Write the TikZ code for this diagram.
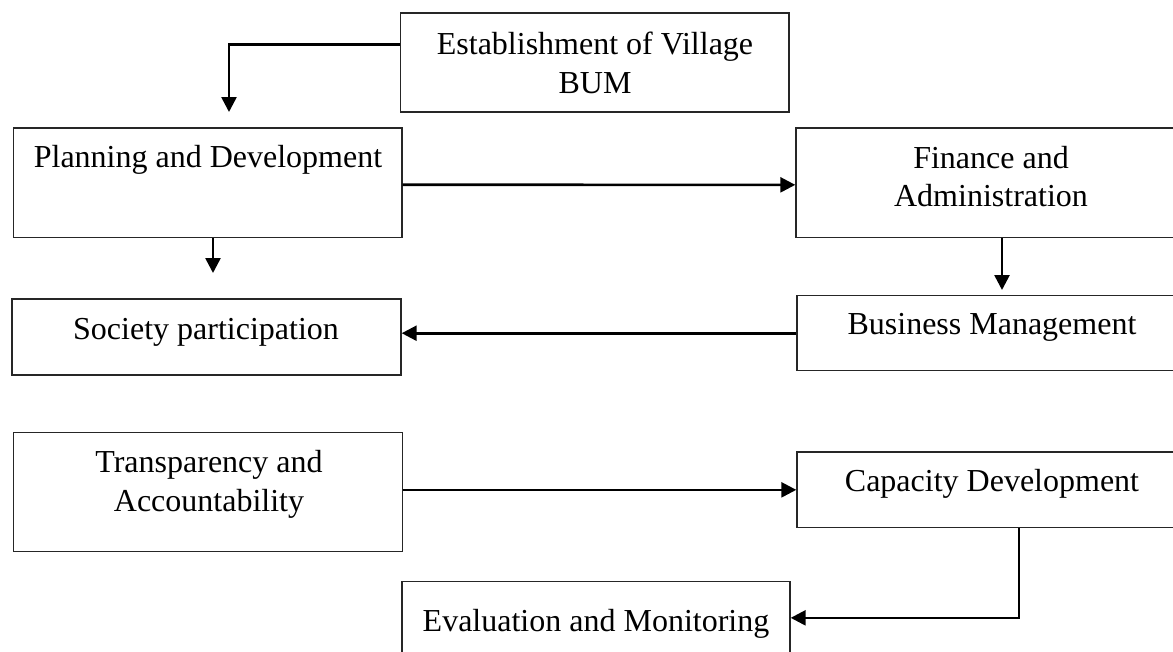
\documentclass[tikz,border=0pt]{standalone}
\usepackage{fontspec}
\setmainfont{Liberation Serif}
\usetikzlibrary{arrows.meta,calc}
\begin{document}
\begin{tikzpicture}[x=1pt,y=-1pt,
  box/.style={draw=black!85,line width=1.4pt,rectangle,inner sep=0pt},
  lbl/.style={anchor=base,inner sep=0pt,font=\fontsize{32}{39}\selectfont},
  arr/.style={line width=2.6pt,-{Triangle[length=15pt,width=15pt]}}]
\useasboundingbox (0,0) rectangle (1173,651);
\clip (0,0) rectangle (1173,651);
\fill[white] (0,0) rectangle (1173,651);
% boxes
\node[box,minimum width=388.3pt,minimum height=99pt] (est) at (594.85,62.5) {};
\node[box,minimum width=388.3pt,minimum height=109.5pt] (plan) at (207.85,182.75) {};
\node[box,minimum width=394pt,minimum height=109.7pt] (fin) at (993,182.85) {};
\node[box,minimum width=392pt,minimum height=75pt] (bus) at (993,333.2) {};
\node[box,minimum width=389pt,minimum height=76pt] (soc) at (206.5,337) {};
\node[box,minimum width=389.4pt,minimum height=119pt] (trans) at (208,492.2) {};
\node[box,minimum width=392pt,minimum height=75.7pt] (cap) at (993,489.85) {};
\node[box,minimum width=388pt,minimum height=72.3pt] (eval) at (596,617.85) {};
% texts
\node[lbl] (t1a) at (595,54) {Establishment of Village};
\node[lbl] (t1b) at (595,93) {BUM};
\node[lbl] (t2) at (208,167.5) {Planning and Development};
\node[lbl] (t3a) at (991,168) {Finance and};
\node[lbl] (t3b) at (991,206) {Administration};
\node[lbl] (t4) at (992,334) {Business Management};
\node[lbl] (t5) at (206,339) {Society participation};
\node[lbl] (t6a) at (209,472.7) {Transparency and};
\node[lbl] (t6b) at (209,511.7) {Accountability};
\node[lbl] (t7) at (992,491) {Capacity Development};
\node[lbl] (t8) at (596,631) {Evaluation and Monitoring};
% free arrow ends
\coordinate (c1) at (229,112);
\coordinate (c2) at (213,273);
\coordinate (c4) at (1002,290);
% connectors
\draw[arr] ([yshift=17.8pt]est.west) -| (c1);
\draw[arr] (plan.south -| c2) -- (c2);
\draw[arr] ([yshift=-2pt]plan.east) -- ([yshift=-2pt]fin.west);
\draw[arr] (fin.south -| c4) -- (c4);
\draw[arr] (bus.west) -- (bus.west -| soc.east);
\draw[arr] (cap.west -| trans.east) -- (cap.west);
\draw[arr] ([xshift=26pt]cap.south) |- (eval.east);
\end{tikzpicture}
\end{document}
